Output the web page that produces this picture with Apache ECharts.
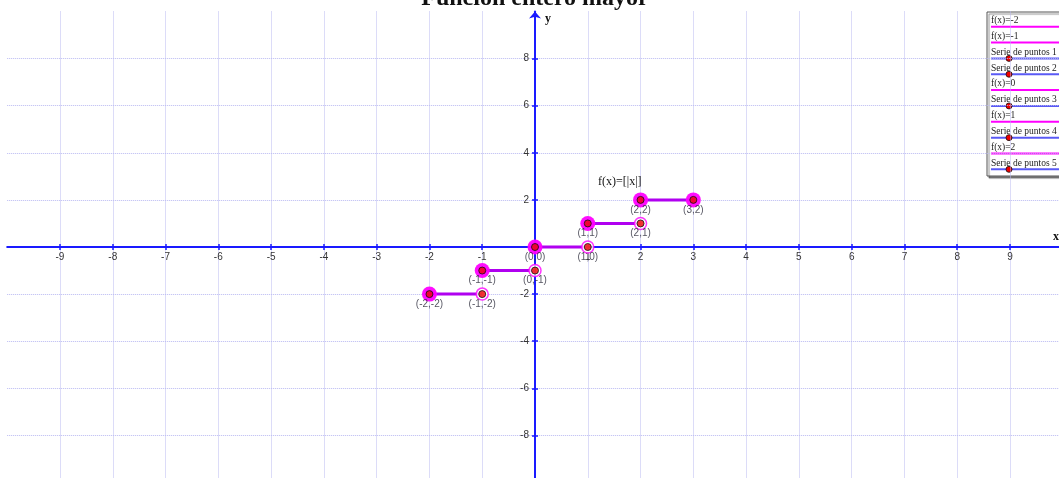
<!DOCTYPE html>
<html><head><meta charset="utf-8">
<script src="https://cdn.jsdelivr.net/npm/echarts@6/dist/echarts.min.js"></script>
<style>html,body{margin:0;padding:0;background:#fff}#c{width:1059px;height:478px}</style>
</head><body><div id="c"></div>
<script>
const titleText = 'Función entero mayor';
const formulaText = 'f(x)=[|x|]';
const segNames = ['f(x)=-2', 'f(x)=-1', 'f(x)=0', 'f(x)=1', 'f(x)=2'];
const segStart = [[-2, -2], [-1, -1], [0, 0], [1, 1], [2, 2]];
const segEnd = [[-1, -2], [0, -1], [1, 0], [2, 1], [3, 2]];
const closedPts = [[-2, -2], [-1, -1], [0, 0], [1, 1], [2, 2], [3, 2]];
const openPts = [[-1, -2], [0, -1], [1, 0], [2, 1]];
const legendNames = ['f(x)=-2', 'f(x)=-1', 'Serie de puntos 1', 'Serie de puntos 2', 'f(x)=0',
  'Serie de puntos 3', 'f(x)=1', 'Serie de puntos 4', 'f(x)=2', 'Serie de puntos 5'];
const legendIsPoints = [false, false, true, true, false, true, false, true, false, true];
const xRange = [-10, 10], xStep = 1;
const yRange = [-10, 10], yStep = 2;
const xTickValues = [-9, -8, -7, -6, -5, -4, -3, -2, -1, 0, 1, 2, 3, 4, 5, 6, 7, 8, 9];
const xLabelValues = [-9, -8, -7, -6, -5, -4, -3, -2, -1, 1, 2, 3, 4, 5, 6, 7, 8, 9];
const yTickValues = [-8, -6, -4, -2, 0, 2, 4, 6, 8];
const yLabelValues = [-8, -6, -4, -2, 2, 4, 6, 8];

const W = 1059, H = 478;
const gridL = 7.2, gridR = -3.8, gridT = 11.5, gridB = -4.5;
const gw = W - gridL - gridR, gh = H - gridT - gridB;
const zeroFromBottom = gh * (0 - yRange[0]) / (yRange[1] - yRange[0]);
const zeroFromTop = gh - zeroFromBottom;
const zeroFromLeft = gw * (0 - xRange[0]) / (xRange[1] - xRange[0]);

const chart = echarts.init(document.getElementById('c'));

const gridColor = '#b9b9f2';
const axisBlue = '#1a1aff';
const labelFont = 'Liberation Sans';

const series = [];
segNames.forEach((n, i) => {
  series.push({
    name: n, type: 'line', data: [segStart[i], segEnd[i]], symbol: 'none', z: 3,
    lineStyle: { color: '#b000f0', width: 3 }, silent: true
  });
});
series.push({
  name: 'closedHalo', type: 'scatter', data: closedPts, symbolSize: 15, z: 4,
  itemStyle: { color: '#ff00ff', opacity: 0.95 }
});
series.push({
  name: 'openRing', type: 'scatter', data: openPts, symbolSize: 12, z: 4,
  itemStyle: { color: '#ffffff', borderColor: '#ff00ff', borderWidth: 1.5 }
});
series.push({
  name: 'cores', type: 'scatter', data: closedPts.concat(openPts), symbolSize: 7, z: 5,
  itemStyle: { color: '#ee0000', borderColor: '#111', borderWidth: 1 },
  label: {
    show: true, position: 'bottom', distance: 1,
    fontFamily: labelFont, fontSize: 10, color: '#2a2a3a',
    formatter: p => '(' + p.value[0] + ',' + p.value[1] + ')'
  }
});

const lg = [];
const lx = 987, ly = 12, lh = 164, step = 15.85, firstLine = 26.7;
lg.push({ type: 'rect', shape: { x: lx, y: ly, width: 90, height: lh },
  style: { fill: '#fff', stroke: '#555', lineWidth: 1, shadowColor: 'rgba(0,0,0,0.45)', shadowOffsetX: 2, shadowOffsetY: 2, shadowBlur: 1 } });
legendNames.forEach((n, i) => {
  const yl = firstLine + i * step;
  lg.push({ type: 'text', style: { x: lx + 4, y: yl - 1.2, text: n, fill: '#222', font: '9.5px "Liberation Serif"', textVerticalAlign: 'bottom' } });
  if (legendIsPoints[i]) {
    lg.push({ type: 'line', shape: { x1: lx + 4, y1: yl, x2: 1059, y2: yl }, style: { stroke: '#5a5af5', lineWidth: 2 } });
    lg.push({ type: 'circle', shape: { cx: 1009, cy: yl, r: 3 }, style: { fill: '#ee0000', stroke: '#111', lineWidth: 0.8 } });
  } else {
    lg.push({ type: 'line', shape: { x1: lx + 4, y1: yl, x2: 1059, y2: yl }, style: { stroke: '#ff00ff', lineWidth: 2 } });
  }
});

const tickStyle = { color: axisBlue, width: 1.5 };
const splitStyle = { color: gridColor, type: 'dotted', width: 1 };

chart.setOption({
  animation: false,
  backgroundColor: '#fff',
  grid: { left: gridL, right: gridR, top: gridT, bottom: gridB, containLabel: false, outerBoundsMode: 'none' },
  xAxis: [{
    type: 'value', min: xRange[0], max: xRange[1], interval: xStep,
    position: 'bottom', offset: -zeroFromBottom,
    axisLine: { onZero: false, lineStyle: { color: axisBlue, width: 2 } },
    axisTick: { show: true, length: 3, lineStyle: tickStyle, customValues: xTickValues },
    axisLabel: { margin: 5, fontFamily: labelFont, fontSize: 10, color: '#333', customValues: xLabelValues },
    splitLine: { show: true, lineStyle: splitStyle }
  }, {
    type: 'value', min: xRange[0], max: xRange[1], interval: xStep,
    position: 'top', offset: -zeroFromTop,
    axisLine: { show: false, onZero: false },
    axisTick: { show: true, length: 3, lineStyle: tickStyle, customValues: xTickValues },
    axisLabel: { show: false }, splitLine: { show: false }
  }],
  yAxis: [{
    type: 'value', min: yRange[0], max: yRange[1], interval: yStep,
    position: 'left', offset: -zeroFromLeft,
    axisLine: { onZero: false, symbol: ['none', 'arrow'], symbolSize: [9, 7], lineStyle: { color: axisBlue, width: 2 } },
    axisTick: { show: true, length: 3, lineStyle: tickStyle, customValues: yTickValues },
    axisLabel: { margin: 6, fontFamily: labelFont, fontSize: 10, color: '#333', customValues: yLabelValues },
    splitLine: { show: true, lineStyle: splitStyle }
  }, {
    type: 'value', min: yRange[0], max: yRange[1], interval: yStep,
    position: 'right', offset: -(gw - zeroFromLeft),
    axisLine: { show: false, onZero: false },
    axisTick: { show: true, length: 3, lineStyle: tickStyle, customValues: yTickValues },
    axisLabel: { show: false }, splitLine: { show: false }
  }],
  series: series,
  graphic: [
    { type: 'text', z: 10, style: { x: 535, y: 11, text: titleText, fill: '#111', font: 'bold 24px "Liberation Serif"', textAlign: 'center', textVerticalAlign: 'bottom' } },
    { type: 'text', z: 10, style: { x: 598, y: 182, text: formulaText, fill: '#111', font: '12px "Liberation Serif"', textVerticalAlign: 'middle' } },
    { type: 'text', z: 10, style: { x: 545, y: 19, text: 'y', fill: '#111', font: 'bold 12px "Liberation Serif"', textVerticalAlign: 'middle' } },
    { type: 'text', z: 10, style: { x: 1053, y: 237, text: 'x', fill: '#111', font: 'bold 12px "Liberation Serif"', textVerticalAlign: 'middle' } },
    { type: 'group', z: 20, children: lg }
  ]
});
</script></body></html>
